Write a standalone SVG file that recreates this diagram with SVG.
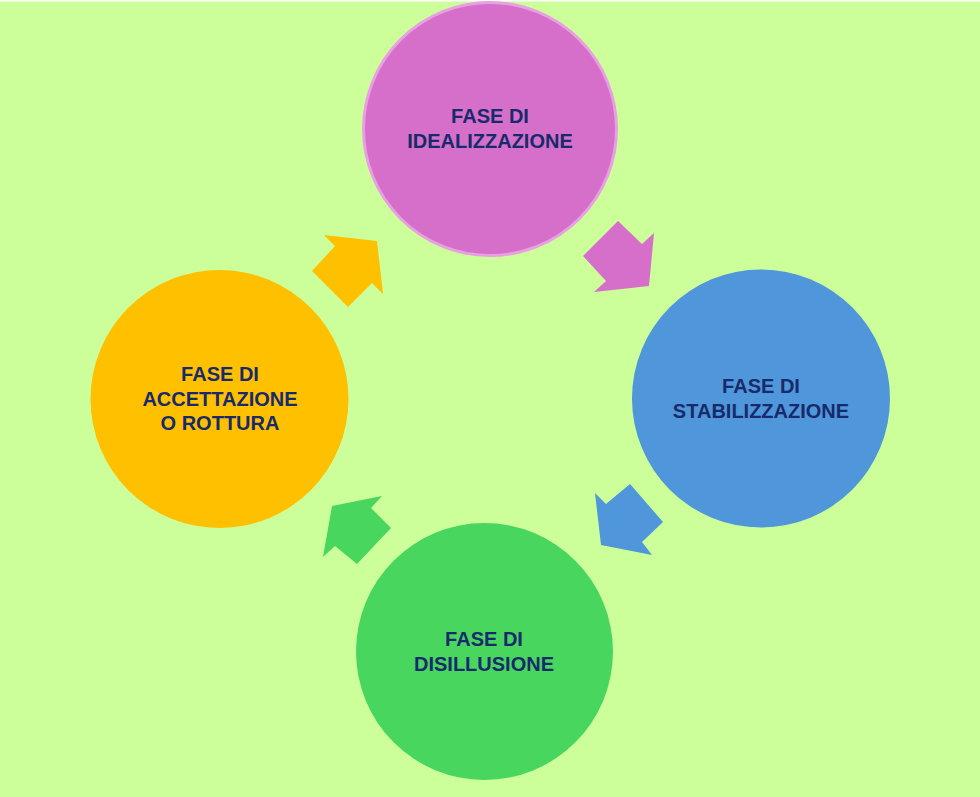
<svg xmlns="http://www.w3.org/2000/svg" width="980" height="797" viewBox="0 0 980 797">
<style>
.lbl{font-family:"Century Gothic","URW Gothic","Liberation Sans",Arial,sans-serif;font-weight:bold;font-size:20px;fill:#172a6b;text-anchor:middle}
</style>
<rect x="0" y="0" width="980" height="797" fill="#ffffff"/>
<rect x="0" y="1.5" width="980" height="795.5" fill="#ccff99"/>
<g id="connectors">
<polygon points="583,256 618,221 642,244 654,233 649,286 594,292 606,281" fill="#d66fc9"/>
<polygon points="630,484 663,522 642,542 652,555 601,545 595,493 606,504" fill="#4f96da"/>
<polygon points="382,496 371,508 391,528 357,564 335,546 323,557 332,506" fill="#48d65e"/>
<polygon points="324,235 377,241 383,294 372,283 348,307 312,271 335,246" fill="#ffc000"/>
</g>
<g id="idealizzazione">
<circle cx="490" cy="129" r="126.5" fill="#d66fc9" stroke="#e8a0e2" stroke-width="3"/>
<text class="lbl" x="490" y="123">FASE DI</text>
<text class="lbl" x="490" y="148">IDEALIZZAZIONE</text>
</g>
<g id="stabilizzazione">
<circle cx="761" cy="398.5" r="129" fill="#4f96da"/>
<text class="lbl" x="761" y="393">FASE DI</text>
<text class="lbl" x="761" y="418">STABILIZZAZIONE</text>
</g>
<g id="disillusione">
<circle cx="484.5" cy="651.5" r="128.5" fill="#48d65e"/>
<text class="lbl" x="484" y="646">FASE DI</text>
<text class="lbl" x="484" y="671">DISILLUSIONE</text>
</g>
<g id="accettazione">
<circle cx="219.5" cy="399" r="129" fill="#ffc000"/>
<text class="lbl" x="220" y="381">FASE DI</text>
<text class="lbl" x="220" y="406">ACCETTAZIONE</text>
<text class="lbl" x="220" y="430">O ROTTURA</text>
</g>
</svg>
